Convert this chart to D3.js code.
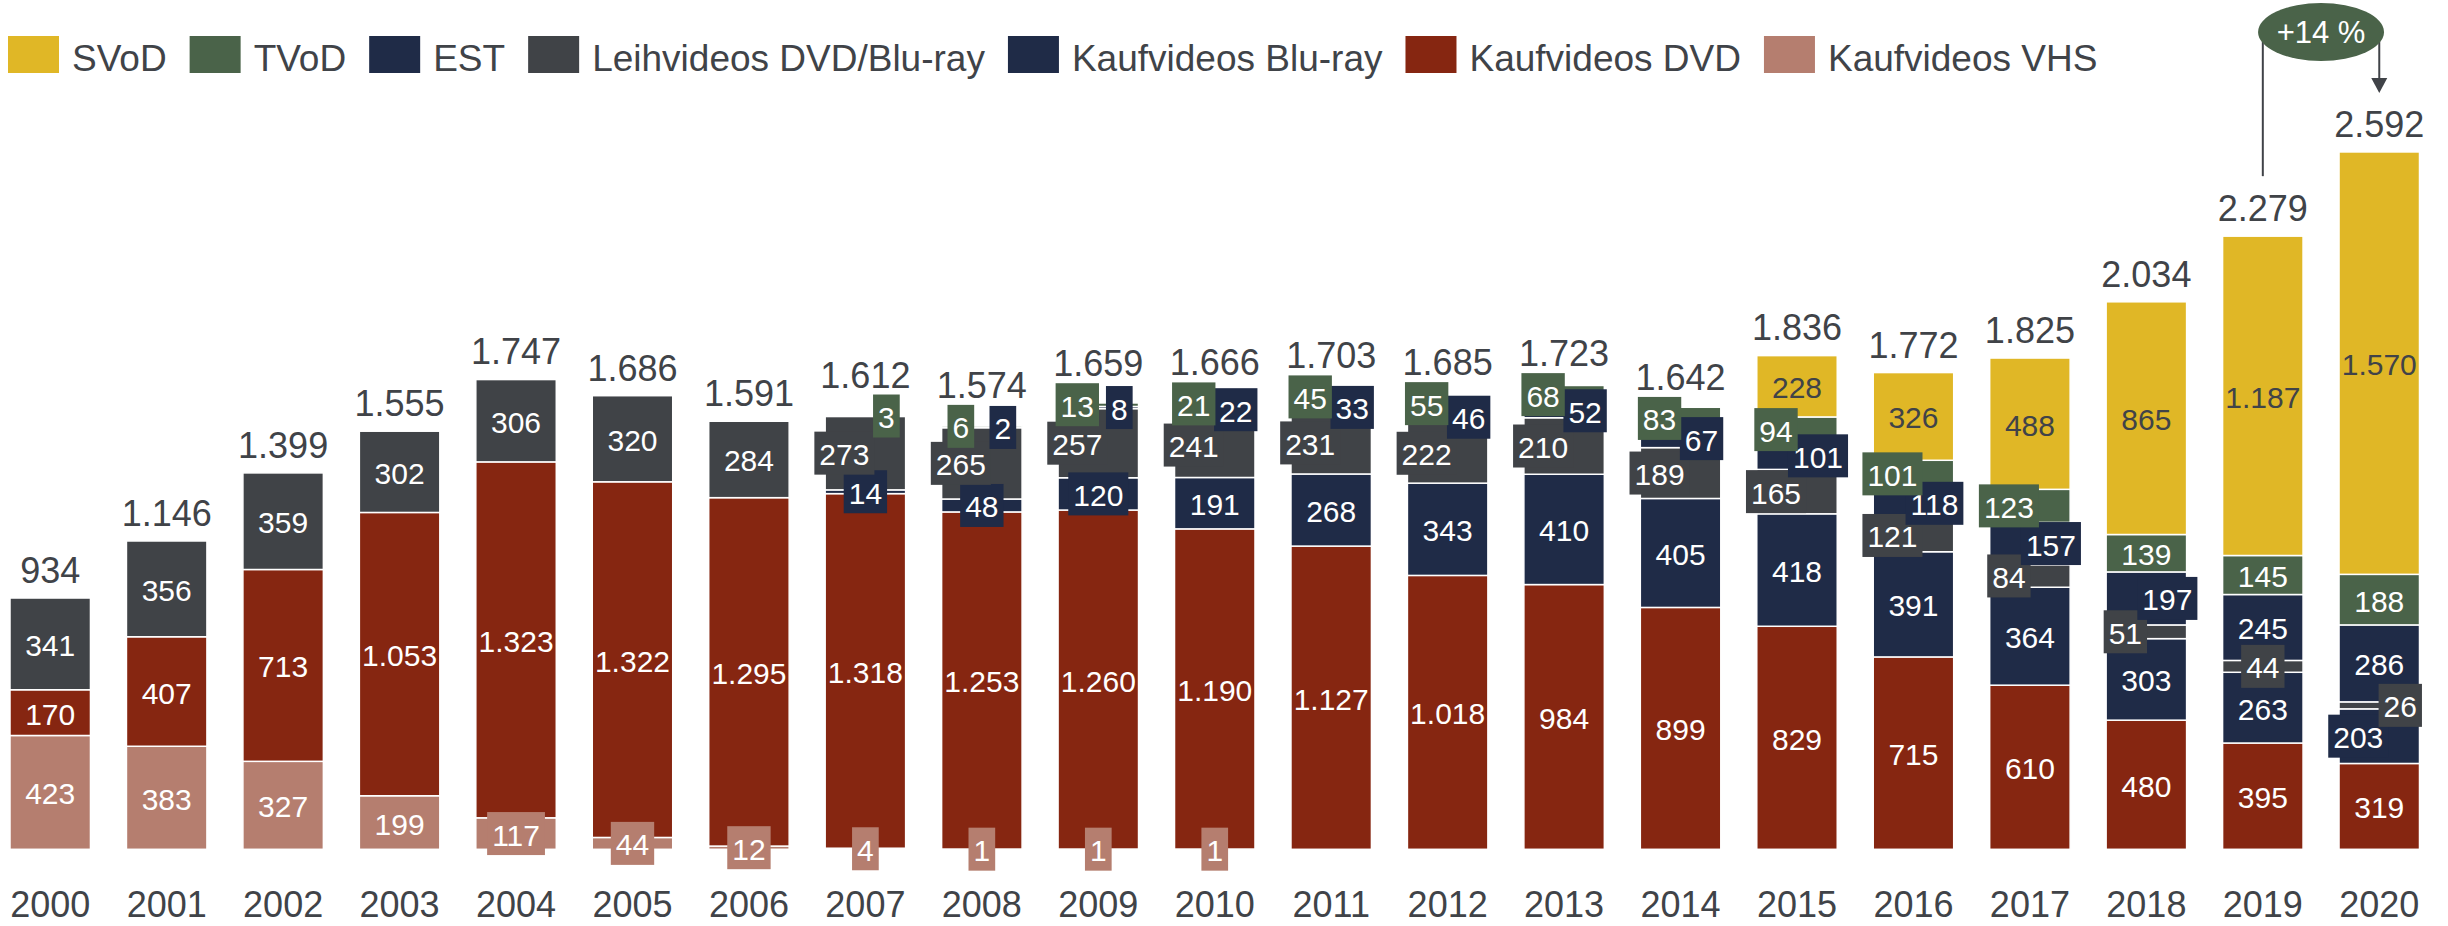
<!DOCTYPE html>
<html>
<head>
<meta charset="utf-8">
<script src="https://cdn.jsdelivr.net/npm/d3@7"></script>
<style>
  body { margin: 0; background: #fff; }
  svg text { font-family: "Liberation Sans", Arial, sans-serif; }
</style>
</head>
<body>
<svg id="chart" width="2448" height="926"></svg>
<script>
// Umsatz in Mio. Euro, Jahre 2000-2020
const years = ["2000","2001","2002","2003","2004","2005","2006","2007","2008","2009","2010",
               "2011","2012","2013","2014","2015","2016","2017","2018","2019","2020"];

const vhs    = [423, 383, 327, 199, 117, 44, 12, 4, 1, 1, 1, 0, 0, 0, 0, 0, 0, 0, 0, 0, 0];
const dvd    = [170, 407, 713, 1053, 1323, 1322, 1295, 1318, 1253, 1260, 1190, 1127, 1018, 984, 899, 829, 715, 610, 480, 395, 319];
const bluray = [0, 0, 0, 0, 0, 0, 0, 14, 48, 120, 191, 268, 343, 410, 405, 418, 391, 364, 303, 263, 203];
const leih   = [341, 356, 359, 302, 306, 320, 284, 273, 265, 257, 241, 231, 222, 210, 189, 165, 121, 84, 51, 44, 26];
const est    = [0, 0, 0, 0, 0, 0, 0, 0, 2, 8, 22, 33, 46, 52, 67, 101, 118, 157, 197, 245, 286];
const tvod   = [0, 0, 0, 0, 0, 0, 0, 3, 6, 13, 21, 45, 55, 68, 83, 94, 101, 123, 139, 145, 188];
const svod   = [0, 0, 0, 0, 0, 0, 0, 0, 0, 0, 0, 0, 0, 0, 0, 228, 326, 488, 865, 1187, 1570];
const totals = [934, 1146, 1399, 1555, 1747, 1686, 1591, 1612, 1574, 1659, 1666, 1703, 1685, 1723, 1642, 1836, 1772, 1825, 2034, 2279, 2592];

// stack order bottom -> top
const series = [
  { key: "vhs",    name: "Kaufvideos VHS",        color: "#b57e6f", values: vhs },
  { key: "dvd",    name: "Kaufvideos DVD",        color: "#862611", values: dvd },
  { key: "bluray", name: "Kaufvideos Blu-ray",    color: "#1f2b47", values: bluray },
  { key: "leih",   name: "Leihvideos DVD/Blu-ray", color: "#404347", values: leih },
  { key: "est",    name: "EST",                   color: "#1f2b47", values: est },
  { key: "tvod",   name: "TVoD",                  color: "#4a6349", values: tvod },
  { key: "svod",   name: "SVoD",                  color: "#e0b726", values: svod }
];

// labels pushed sideways so they don't collide (year lists)
const pushLeft  = { leih: ["2007","2008","2009","2010","2011","2012","2013","2014","2015","2016","2017","2018"],
                    tvod: ["2008","2009","2010","2011","2012","2013","2014","2015","2016","2017"],
                    bluray: ["2020"] };
const pushRight = { tvod: ["2007"],
                    est: ["2008","2009","2010","2011","2012","2013","2014","2015","2016","2017","2018"],
                    leih: ["2020"] };

const grey = "#404348";
const fmt = d3.formatLocale({ decimal: ",", thousands: ".", grouping: [3], currency: ["", " €"] }).format(",d");

const svg = d3.select("#chart");

const rows = years.map((y, i) => {
  const r = { year: y };
  series.forEach(s => r[s.key] = s.values[i]);
  return r;
});
const stacked = d3.stack().keys(series.map(s => s.key))(rows);

const x = d3.scaleBand().domain(years).range([10, 2419.5]).paddingInner(0.309).paddingOuter(0);
const y = d3.scaleLinear().domain([0, 2600]).range([849.3, 149.8]);
const bw = x.bandwidth();

// bars
const layers = svg.append("g").selectAll("g")
  .data(stacked)
  .enter().append("g")
  .attr("fill", (d, i) => series[i].color);

layers.selectAll("rect")
  .data(d => d.filter(p => p[1] - p[0] > 0))
  .enter().append("rect")
  .attr("x", d => x(d.data.year))
  .attr("y", d => y(d[1]))
  .attr("width", bw)
  .attr("height", d => y(d[0]) - y(d[1]))
  .attr("stroke", "#fff")
  .attr("stroke-width", 1.5);

// segment labels
const labelLayer = svg.append("g");
const boxTop = {};
stacked.forEach((layer, i) => {
  const s = series[i];
  layer.forEach(d => {
    const v = d[1] - d[0];
    if (v <= 0) return;
    const yr = d.data.year;
    const y0 = y(d[0]), y1 = y(d[1]);
    const h = y0 - y1;
    const cy = (y0 + y1) / 2;
    let shift = 0;
    if (pushLeft[s.key] && pushLeft[s.key].includes(yr)) shift = -21;
    if (pushRight[s.key] && pushRight[s.key].includes(yr)) shift = 21;
    const boxed = shift !== 0 || h < 35;
    const cx = x(yr) + bw / 2 + shift;

    const g = labelLayer.append("g");
    const box = g.append("rect");
    const t = g.append("text")
      .attr("x", cx)
      .attr("y", cy + 12)
      .attr("text-anchor", "middle")
      .attr("font-size", 30)
      .attr("fill", s.key === "svod" ? grey : "#fff")
      .text(fmt(v));
    if (boxed) {
      const tw = t.node().getComputedTextLength();
      box.attr("x", cx - tw / 2 - 5)
        .attr("y", cy - 21.5)
        .attr("width", tw + 10)
        .attr("height", 43)
        .attr("fill", s.color);
      boxTop[yr] = Math.min(boxTop[yr] ?? Infinity, cy - 21.5);
    } else {
      box.remove();
    }
  });
});

// totals above bars (and above any label boxes sticking out)
svg.append("g").selectAll("text")
  .data(years)
  .enter().append("text")
  .attr("x", d => x(d) + bw / 2)
  .attr("y", (d, i) => Math.min(y(totals[i]) - 15, (boxTop[d] ?? Infinity) - 7))
  .attr("text-anchor", "middle")
  .attr("font-size", 36)
  .attr("fill", grey)
  .text((d, i) => fmt(totals[i]));

// year axis
const axis = svg.append("g")
  .attr("transform", "translate(0,849.3)")
  .call(d3.axisBottom(x).tickSize(0).tickPadding(42));
axis.select(".domain").remove();
axis.attr("font-size", 36)
  .attr("font-family", "Liberation Sans, Arial, sans-serif")
  .attr("color", grey);

// legend (reverse stack order)
const legend = svg.append("g");
let lx = 8;
series.slice().reverse().forEach(s => {
  legend.append("rect")
    .attr("x", lx).attr("y", 36)
    .attr("width", 51).attr("height", 37)
    .attr("fill", s.color);
  const t = legend.append("text")
    .attr("x", lx + 64).attr("y", 71)
    .attr("font-size", 37)
    .attr("fill", grey)
    .text(s.name);
  lx += 64 + t.node().getComputedTextLength() + 23;
});

// growth annotation 2019 -> 2020
const n = years.length;
const xa = x(years[n - 2]) + bw / 2;
const xb = x(years[n - 1]) + bw / 2;
const growth = totals[n - 1] / totals[n - 2] - 1;
const ann = svg.append("g");
ann.append("line")
  .attr("x1", xa).attr("x2", xa)
  .attr("y1", 32).attr("y2", y(totals[n - 2]) - 60)
  .attr("stroke", grey).attr("stroke-width", 2);
const tipY = y(totals[n - 1]) - 59;
ann.append("line")
  .attr("x1", xb).attr("x2", xb)
  .attr("y1", 32).attr("y2", tipY - 14)
  .attr("stroke", grey).attr("stroke-width", 2);
ann.append("path")
  .attr("d", `M${xb - 8},${tipY - 15}L${xb + 8},${tipY - 15}L${xb},${tipY}Z`)
  .attr("fill", grey);
ann.append("ellipse")
  .attr("cx", (xa + xb) / 2).attr("cy", 32)
  .attr("rx", 63).attr("ry", 29)
  .attr("fill", "#4a6349");
ann.append("text")
  .attr("x", (xa + xb) / 2).attr("y", 43)
  .attr("text-anchor", "middle")
  .attr("font-size", 31)
  .attr("fill", "#fff")
  .text("+" + Math.round(growth * 100) + " %");
</script>
</body>
</html>
